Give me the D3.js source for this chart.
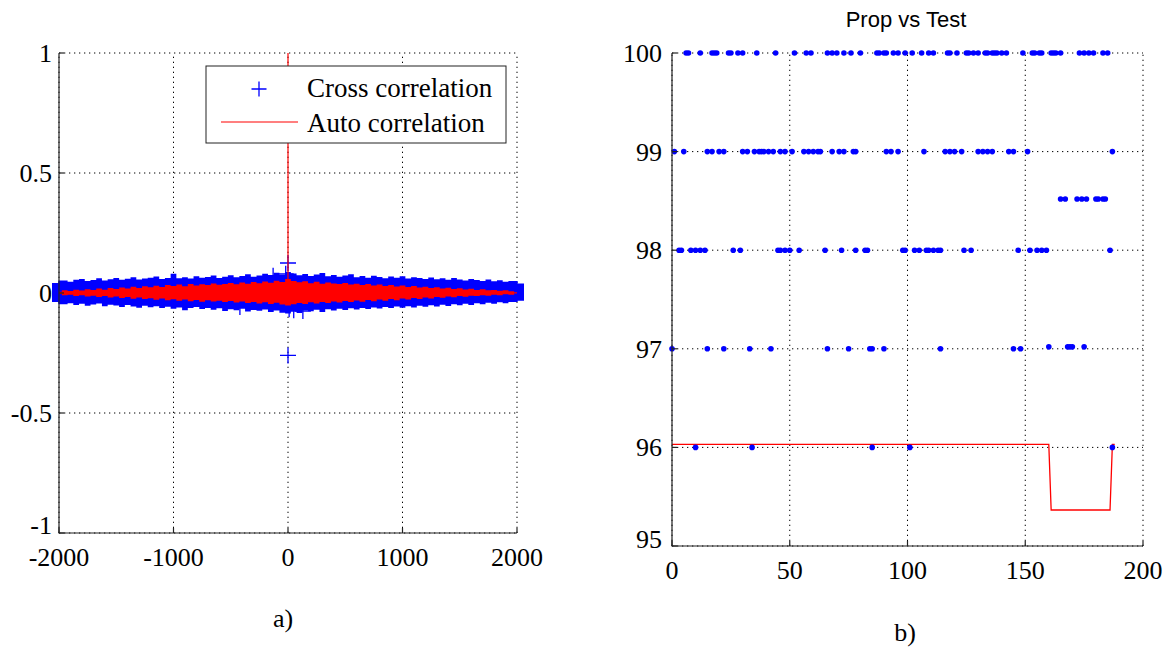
<!DOCTYPE html>
<html lang="en">
<head>
<meta charset="UTF-8">
<script src="https://cdn.jsdelivr.net/npm/d3@7"></script>
<title>Correlation / Prop vs Test</title>
<style>
    body { margin: 0; background: white; }
    .tick-label { font-family: "Liberation Serif", "Times New Roman", serif; font-size: 26px; fill: black; }
    .legend-text { font-family: "Liberation Serif", "Times New Roman", serif; font-size: 27px; fill: black; }
    .title { font-family: "Liberation Sans", Arial, sans-serif; font-size: 22px; fill: black; }
    .grid { stroke: #000; stroke-width: 1; stroke-dasharray: 1.3,3.7; fill: none; }
    .axis-line { stroke: #222; stroke-width: 1.2; fill: none; }
</style>
</head>
<body>
<svg id="chart" width="1173" height="653"></svg>
<script>
// ---------- panel a) : correlation ----------
const lagTicks = [-2000, -1000, 0, 1000, 2000];
const corrTicks = [-1, -0.5, 0, 0.5, 1];
const bandLag = d3.range(-2000, 2001, 50);
const crossUpper = [0.042,0.052,0.047,0.055,0.058,0.050,0.054,0.061,0.052,0.057,
    0.063,0.055,0.059,0.066,0.056,0.060,0.064,0.069,0.058,0.062,
    0.080,0.061,0.066,0.060,0.070,0.064,0.067,0.073,0.063,0.068,
    0.074,0.066,0.071,0.078,0.068,0.073,0.080,0.072,0.084,0.077,
    0.088,
    0.081,0.074,0.079,0.071,0.077,0.083,0.070,0.075,0.068,0.073,
    0.078,0.066,0.071,0.064,0.072,0.067,0.061,0.069,0.064,0.070,
    0.060,0.066,0.062,0.058,0.065,0.057,0.061,0.055,0.063,0.056,
    0.052,0.058,0.054,0.050,0.056,0.049,0.053,0.047,0.050,0.040];
const crossLower = [-0.038,-0.047,-0.043,-0.050,-0.045,-0.053,-0.048,-0.044,-0.055,-0.049,
    -0.052,-0.058,-0.050,-0.056,-0.061,-0.053,-0.059,-0.055,-0.063,-0.057,
    -0.066,-0.060,-0.072,-0.062,-0.058,-0.067,-0.063,-0.070,-0.064,-0.075,
    -0.068,-0.072,-0.066,-0.077,-0.071,-0.074,-0.069,-0.079,-0.073,-0.082,
    -0.085,
    -0.078,-0.083,-0.072,-0.076,-0.070,-0.079,-0.068,-0.073,-0.066,-0.071,
    -0.064,-0.069,-0.062,-0.067,-0.060,-0.065,-0.058,-0.063,-0.056,-0.061,
    -0.055,-0.060,-0.053,-0.057,-0.051,-0.056,-0.049,-0.054,-0.047,-0.051,
    -0.045,-0.050,-0.043,-0.047,-0.041,-0.045,-0.039,-0.043,-0.037,-0.032];
const autoUpper = [0.005,0.011,0.008,0.014,0.010,0.016,0.012,0.019,0.014,0.021,
    0.017,0.023,0.019,0.026,0.021,0.028,0.024,0.030,0.025,0.033,
    0.029,0.035,0.028,0.037,0.031,0.036,0.033,0.040,0.034,0.038,
    0.042,0.036,0.044,0.039,0.046,0.041,0.048,0.043,0.051,0.046,
    0.058,
    0.050,0.045,0.049,0.041,0.047,0.039,0.044,0.040,0.037,0.042,
    0.035,0.039,0.033,0.037,0.031,0.035,0.029,0.033,0.027,0.031,
    0.025,0.029,0.023,0.026,0.021,0.024,0.019,0.022,0.017,0.020,
    0.015,0.018,0.013,0.016,0.011,0.013,0.009,0.011,0.007,0.003];
const autoLower = [-0.004,-0.009,-0.007,-0.012,-0.009,-0.015,-0.011,-0.017,-0.013,-0.019,
    -0.015,-0.021,-0.017,-0.024,-0.019,-0.025,-0.022,-0.028,-0.023,-0.030,
    -0.026,-0.032,-0.027,-0.034,-0.029,-0.036,-0.030,-0.035,-0.032,-0.038,
    -0.033,-0.040,-0.035,-0.042,-0.037,-0.044,-0.039,-0.046,-0.041,-0.048,
    -0.052,
    -0.047,-0.042,-0.046,-0.039,-0.044,-0.037,-0.042,-0.035,-0.040,-0.033,
    -0.038,-0.031,-0.036,-0.029,-0.034,-0.027,-0.032,-0.025,-0.030,-0.023,
    -0.027,-0.021,-0.025,-0.019,-0.023,-0.017,-0.020,-0.015,-0.018,-0.013,
    -0.016,-0.011,-0.013,-0.009,-0.011,-0.007,-0.009,-0.005,-0.007,-0.002];
// cross correlation samples standing out of the band
const crossOutLag = [0, 0, 10, 50, 130, -420, -130, -20];
const crossOutVal = [0.125, -0.26, -0.068, -0.072, -0.075, -0.058, 0.072, 0.08];
const autoPeakLag = 0;
const autoPeakVal = 1;
const legendNames = ["Cross correlation", "Auto correlation"];

// ---------- panel b) : Prop vs Test ----------
const testTicksX = [0, 50, 100, 150, 200];
const testTicksY = [95, 96, 97, 98, 99, 100];
const at100 = [6,7,12,17,18,19,24,25,28,30,36,44,52,57,59,66,68,70,73,76,80,87,88,90,91,94,96,99,102,106,109,111,117,118,121,125,126,128,130,133,134,136,137,138,140,142,149,153,154,156,157,161,162,163,165,173,175,177,179,183,185];
const at99 = [1,5,15,17,20,22,30,32,35,37,38,39,41,43,46,48,51,56,58,60,62,63,68,71,73,77,78,91,93,96,107,116,118,120,123,130,132,134,136,143,145,151,187];
const at9852 = [165,167,172,174,176,180,181,183,184];
const at98 = [3,4,8,10,12,14,26,29,45,46,48,50,54,65,72,78,82,83,98,99,103,105,108,109,111,113,114,124,127,147,152,155,157,159,186];
const at97 = [0,15,22,33,42,66,75,84,85,90,114,145,148];
const at9702 = [160,168,169,170,175];
const at96 = [10,34,85,101,187];
const testLevels = [100, 99, 98.52, 98, 97, 97.02, 96];
const testRows = [at100, at99, at9852, at98, at97, at9702, at96];
// reference line (vertices)
const propX = [0, 160, 161, 186, 187, 188];
const propY = [96.03, 96.03, 95.365, 95.365, 96.03, 96.03];

const svg = d3.select("#chart");
svg.append("rect").attr("width", 1173).attr("height", 653).attr("fill", "white");

// ===== panel a =====
const xL = d3.scaleLinear().domain([-2000, 2000]).range([59, 517]);
const yL = d3.scaleLinear().domain([-1, 1]).range([533, 53]);
const gA = svg.append("g");

gA.selectAll(".gx").data(lagTicks).enter().append("line")
    .attr("class", "grid")
    .attr("x1", d => xL(d)).attr("x2", d => xL(d))
    .attr("y1", yL(-1)).attr("y2", yL(1));
gA.selectAll(".gy").data(corrTicks).enter().append("line")
    .attr("class", "grid")
    .attr("x1", xL(-2000)).attr("x2", xL(2000))
    .attr("y1", d => yL(d)).attr("y2", d => yL(d));

const last = bandLag.length - 1;
const bandX = (d, i) => xL(bandLag[i]) + (i === 0 ? -7 : i === last ? 7 : 0);
const crossArea = d3.area()
    .curve(d3.curveStep)
    .x(bandX)
    .y0((d, i) => yL(crossLower[i]))
    .y1((d, i) => yL(crossUpper[i]));
gA.append("path").datum(bandLag).attr("d", crossArea).attr("fill", "#0000ff");

const plus = "M-8,0H8M0,-8V8";
gA.selectAll(".out").data(crossOutLag).enter().append("path")
    .attr("d", plus)
    .attr("transform", (d, i) => `translate(${xL(d)},${yL(crossOutVal[i])})`)
    .attr("stroke", "#0000ff").attr("stroke-width", 1.3).attr("fill", "none");

const autoArea = d3.area()
    .curve(d3.curveStep)
    .x((d, i) => xL(bandLag[i]))
    .y0((d, i) => yL(autoLower[i]))
    .y1((d, i) => yL(autoUpper[i]));
gA.append("path").datum(bandLag).attr("d", autoArea).attr("fill", "#ff0000");
gA.append("line")
    .attr("x1", xL(autoPeakLag)).attr("x2", xL(autoPeakLag))
    .attr("y1", yL(autoPeakVal)).attr("y2", yL(0))
    .attr("stroke", "#ff0000").attr("stroke-width", 1.2);

// legend
const lg = gA.append("g");
lg.append("rect").attr("x", 206).attr("y", 66).attr("width", 300).attr("height", 77)
    .attr("fill", "white").attr("stroke", "#222").attr("stroke-width", 1);
lg.append("path").attr("d", "M-7.5,0H7.5M0,-7.5V7.5").attr("transform", "translate(259,89)")
    .attr("stroke", "#0000ff").attr("stroke-width", 1.3);
lg.append("line").attr("x1", 221).attr("x2", 298).attr("y1", 122).attr("y2", 122)
    .attr("stroke", "#ff0000").attr("stroke-width", 1.2);
lg.selectAll("text").data(legendNames).enter().append("text")
    .attr("class", "legend-text")
    .attr("x", 307).attr("y", (d, i) => 97 + i * 35)
    .text(d => d);

// axes
gA.append("path").attr("class", "axis-line")
    .attr("d", `M${xL(-2000)},${yL(1)}V${yL(-1)}H${xL(2000)}`);
gA.selectAll(".tyl").data(corrTicks).enter().append("line")
    .attr("class", "axis-line")
    .attr("x1", xL(-2000)).attr("x2", xL(-2000) + 5)
    .attr("y1", d => yL(d)).attr("y2", d => yL(d));
gA.selectAll(".txl").data(lagTicks).enter().append("line")
    .attr("class", "axis-line")
    .attr("x1", d => xL(d)).attr("x2", d => xL(d))
    .attr("y1", yL(-1)).attr("y2", yL(-1) - 5);
gA.selectAll(".ly").data(corrTicks).enter().append("text")
    .attr("class", "tick-label").attr("text-anchor", "end")
    .attr("x", xL(-2000) - 7).attr("y", d => yL(d) + (d === -1 ? 1 : 9))
    .text(d => d);
gA.selectAll(".lx").data(lagTicks).enter().append("text")
    .attr("class", "tick-label").attr("text-anchor", "middle")
    .attr("x", d => xL(d)).attr("y", yL(-1) + 33)
    .text(d => d);
svg.append("text").attr("class", "tick-label").attr("text-anchor", "middle")
    .attr("x", 283).attr("y", 627).text("a)");

// ===== panel b =====
const xR = d3.scaleLinear().domain([0, 200]).range([672, 1143]);
const yR = d3.scaleLinear().domain([95, 100]).range([546, 53]);
const gB = svg.append("g");

gB.selectAll(".gx").data(testTicksX).enter().append("line")
    .attr("class", "grid")
    .attr("x1", d => xR(d)).attr("x2", d => xR(d))
    .attr("y1", yR(95)).attr("y2", yR(100));
gB.selectAll(".gy").data(testTicksY).enter().append("line")
    .attr("class", "grid")
    .attr("x1", xR(0)).attr("x2", xR(200))
    .attr("y1", d => yR(d)).attr("y2", d => yR(d));

const propLine = d3.line().x((d, i) => xR(propX[i])).y((d, i) => yR(propY[i]));
gB.append("path").datum(propX).attr("d", propLine)
    .attr("fill", "none").attr("stroke", "#ff0000").attr("stroke-width", 1.3);

testRows.forEach((row, r) => {
    gB.selectAll(".p" + r).data(row).enter().append("circle")
        .attr("cx", d => xR(d)).attr("cy", yR(testLevels[r]))
        .attr("r", 2.8).attr("fill", "#0000ff");
});

gB.append("path").attr("class", "axis-line")
    .attr("d", `M${xR(0)},${yR(100)}V${yR(95)}H${xR(200)}`);
gB.selectAll(".tyl").data(testTicksY).enter().append("line")
    .attr("class", "axis-line")
    .attr("x1", xR(0)).attr("x2", xR(0) + 5)
    .attr("y1", d => yR(d)).attr("y2", d => yR(d));
gB.selectAll(".txl").data(testTicksX).enter().append("line")
    .attr("class", "axis-line")
    .attr("x1", d => xR(d)).attr("x2", d => xR(d))
    .attr("y1", yR(95)).attr("y2", yR(95) - 5);
gB.selectAll(".ly").data(testTicksY).enter().append("text")
    .attr("class", "tick-label").attr("text-anchor", "end")
    .attr("x", xR(0) - 10).attr("y", d => yR(d) + (d === 95 ? 2 : 9))
    .text(d => d);
gB.selectAll(".lx").data(testTicksX).enter().append("text")
    .attr("class", "tick-label").attr("text-anchor", "middle")
    .attr("x", d => xR(d)).attr("y", yR(95) + 33)
    .text(d => d);
svg.append("text").attr("class", "title").attr("text-anchor", "middle")
    .attr("x", 906).attr("y", 27).text("Prop vs Test");
svg.append("text").attr("class", "tick-label").attr("text-anchor", "middle")
    .attr("x", 905).attr("y", 641).text("b)");
</script>
</body>
</html>
